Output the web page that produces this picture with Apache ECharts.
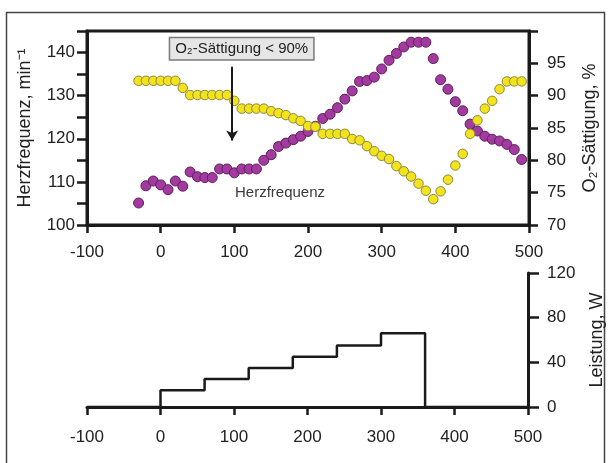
<!DOCTYPE html>
<html>
<head>
<meta charset="utf-8">
<script src="https://cdn.jsdelivr.net/npm/echarts@6/dist/echarts.min.js"></script>
<style>
html,body{margin:0;padding:0;background:#fff;}
#c{width:609px;height:463px;}
</style>
</head>
<body>
<div id="c"></div>
<script>
// ---- data ----
const timeSec = [-30,-20,-10,0,10,20,30,40,50,60,70,80,90,100,110,120,130,140,150,160,170,180,190,200,210,220,230,240,250,260,270,280,290,300,310,320,330,340,350,360,370,380,390,400,410,420,430,440,450,460,470,480,490];
const heartRate = [105.1,109.1,110.2,109.3,108.2,110.2,109.0,112.3,111.2,111.0,111.0,113.0,113.0,112.1,113.0,113.0,113.0,115.0,116.3,118.2,119.0,119.8,120.6,121.7,122.9,124.7,125.7,127.2,129.2,131.1,133.3,133.5,134.3,136.2,138.2,139.8,141.3,142.4,142.4,142.4,138.6,133.7,131.5,128.6,126.5,123.4,121.8,120.6,119.9,119.5,118.7,117.5,115.2];
const o2Sat = [92.3,92.3,92.3,92.3,92.3,92.3,91.2,90.1,90.1,90.1,90.1,90.1,90.1,89.2,88.0,88.0,88.0,88.0,87.6,87.3,87.0,86.5,86.1,85.3,85.2,84.1,84.1,84.1,84.1,83.3,83.1,82.2,81.4,80.7,80.2,79.1,78.3,77.5,76.4,75.3,74.0,75.2,77.0,79.2,81.0,84.1,86.2,88.0,89.2,91.0,92.2,92.2,92.2];
const loadTime = [-100,0,60,120,180,240,300,360,500];
const loadWatt = [0,15,25,35,45,55,66,0,0];
const xTicks = [-100,0,100,200,300,400,500];

const FONT = "'Liberation Sans', Arial, Helvetica, sans-serif";
const INK = '#1a1a1a';
const TXT = '#222';

const hrData = timeSec.map((t,i)=>[t, heartRate[i]]);
const o2Data = timeSec.map((t,i)=>[t, o2Sat[i]]);
const loadData = loadTime.map((t,i)=>[t, loadWatt[i]]);

function xAxisCfg(gi, margin){
  return {
    type:'value', gridIndex:gi, min:xTicks[0], max:xTicks[xTicks.length-1], interval:100,
    axisLine:{show:true, onZero:false, lineStyle:{color:INK, width:3}},
    axisTick:{show:true, inside:false, length:8, lineStyle:{color:INK, width:2.5}},
    axisLabel:{fontSize:17, color:TXT, fontFamily:FONT, margin:margin},
    splitLine:{show:false}
  };
}

const chart = echarts.init(document.getElementById('c'), null, {renderer:'canvas'});
chart.setOption({
  backgroundColor:'#fff',
  animation:false,
  textStyle:{fontFamily:FONT},
  grid:[
    {left:87, top:31, width:442, height:194, show:true, borderColor:INK, borderWidth:3, outerBoundsMode:'none'},
    {left:87, top:273, width:441, height:134, show:false, outerBoundsMode:'none'}
  ],
  xAxis:[ xAxisCfg(0, 19), xAxisCfg(1, 22) ],
  yAxis:[
    {
      type:'value', gridIndex:0, position:'left', min:100, max:145, interval:5,
      axisLine:{show:true, onZero:false, lineStyle:{color:INK, width:3}},
      axisTick:{show:true, inside:false, length:10, lineStyle:{color:INK, width:2.5}},
      axisLabel:{fontSize:17, color:TXT, fontFamily:FONT, margin:12,
        formatter:v=> (v%10===0 && v<145) ? String(v) : ''},
      splitLine:{show:false},
      name:'Herzfrequenz, min⁻¹', nameLocation:'middle', nameGap:53,
      nameTextStyle:{fontSize:18, color:TXT, fontFamily:FONT}
    },
    {
      type:'value', gridIndex:0, position:'right', min:70, max:100, interval:5,
      axisLine:{show:true, onZero:false, lineStyle:{color:INK, width:3}},
      axisTick:{show:true, inside:false, length:9, lineStyle:{color:INK, width:2.5}},
      axisLabel:{fontSize:17, color:TXT, fontFamily:FONT, margin:18,
        formatter:v=> v<100 ? String(v) : ''},
      splitLine:{show:false},
      name:'O₂-Sättigung, %', nameLocation:'middle', nameGap:52, nameRotate:90,
      nameTextStyle:{fontSize:18, color:TXT, fontFamily:FONT}
    },
    {
      type:'value', gridIndex:1, position:'right', min:0, max:120, interval:40,
      axisLine:{show:true, onZero:false, lineStyle:{color:INK, width:3}},
      axisTick:{show:true, inside:false, length:11, lineStyle:{color:INK, width:2.5}},
      axisLabel:{fontSize:17, color:TXT, fontFamily:FONT, margin:19},
      splitLine:{show:false},
      name:'Leistung, W', nameLocation:'middle', nameGap:60, nameRotate:90,
      nameTextStyle:{fontSize:18, color:TXT, fontFamily:FONT}
    }
  ],
  series:[
    {
      name:'Herzfrequenz', type:'scatter', xAxisIndex:0, yAxisIndex:0, data:hrData,
      symbol:'circle', symbolSize:10,
      itemStyle:{color:'#a23a9f', borderColor:'#5e1f5c', borderWidth:1, opacity:1},
      z:3,
      markPoint:{
        symbol:'circle', symbolSize:0, silent:true,
        data:[
          {coord:[162,107.5], value:'Herzfrequenz',
            label:{show:true, position:'inside', formatter:'Herzfrequenz', fontSize:15, color:'#3a3a3a', fontFamily:FONT}},
          {coord:[110,140.9], value:'O₂-Sättigung < 90%',
            label:{show:true, position:'inside', formatter:'O₂-Sättigung < 90%', fontSize:15, color:'#222', fontFamily:FONT,
              backgroundColor:'#e6e6e6', borderColor:'#7a7a7a', borderWidth:1.5, padding:[3,5,3,5]}}
        ]
      },
      markLine:{
        silent:true, symbol:['none','arrow'], symbolSize:[9,10],
        lineStyle:{color:INK, width:2, type:'solid'},
        label:{show:false},
        data:[[{coord:[97,136.7]},{coord:[97,119.6]}]]
      }
    },
    {
      name:'O2-Sättigung', type:'scatter', xAxisIndex:0, yAxisIndex:1, data:o2Data,
      symbol:'circle', symbolSize:9.5,
      itemStyle:{color:'#f3e31c', borderColor:'#8d8840', borderWidth:1, opacity:1},
      z:4
    },
    {
      name:'Leistung', type:'line', xAxisIndex:1, yAxisIndex:2, data:loadData,
      step:'end', showSymbol:false, symbol:'none',
      lineStyle:{color:INK, width:2.5}, z:3
    }
  ],
  graphic:[
    {type:'rect', silent:true, shape:{x:6.5, y:12.5, width:598, height:470},
      style:{fill:'none', stroke:'#444', lineWidth:1.5}, z:-1}
  ]
});
</script>
</body>
</html>
